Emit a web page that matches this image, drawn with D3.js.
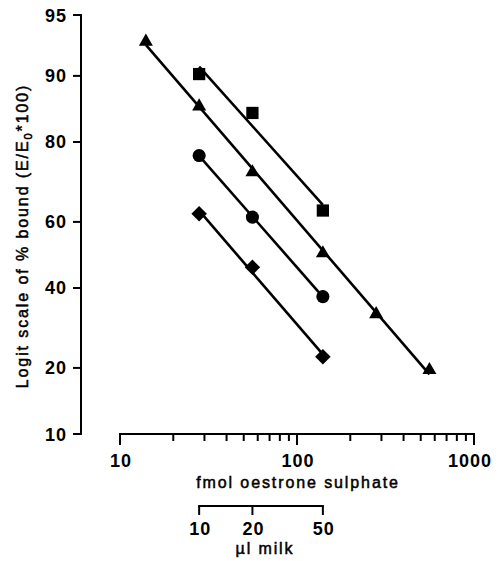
<!DOCTYPE html>
<html>
<head>
<meta charset="utf-8">
<script src="https://cdn.jsdelivr.net/npm/d3@7"></script>
<style>
  html, body { margin: 0; padding: 0; background: #fff; }
  svg { display: block; }
  text { font-family: "Liberation Sans", Arial, Helvetica, sans-serif; fill: #000; }
</style>
</head>
<body>
<svg id="chart" width="498" height="561"></svg>
<script>
// ---- data ----
const stdFmol      = [14, 28, 56, 140, 280, 560];        // standards (triangles)
const stdBound     = [93.2, 86.1, 73.4, 50.5, 32.6, 19.6];
const milkUl       = [10, 20, 50];                        // µl milk
const milkFmol     = [28, 56, 140];                       // equivalent fmol positions
const squareBound  = [90.2, 85.1, 63.3];
const circleBound  = [77.2, 61.4, 37.5];
const diamondBound = [62.4, 46.2, 22.3];
const yTickValues  = [10, 20, 40, 60, 80, 90, 95];
const xMajorTicks  = [10, 100, 1000];
const xMinorTicks  = [20, 30, 40, 50, 60, 70, 80, 90, 200, 300, 400, 500, 600, 700, 800, 900];
const ulTicks      = [10, 20, 50];
const xTitle  = "fmol oestrone sulphate";
const ulTitle = "µl milk";

// ---- scales ----
const logit = p => Math.log(p / (1 - p));
const svg = d3.select("#chart");

const x = d3.scaleLog().domain([10, 1000]).range([120, 474]);
const yLin = d3.scaleLinear().domain([logit(0.10), logit(0.95)]).range([434, 15]);
const y = v => yLin(logit(v / 100));
const xUl = d3.scaleLog().domain([10, 50]).range([x(28), x(140)]);

// ---- series ----
const series = [
  { xs: stdFmol,  ys: stdBound,     shape: "triangle" },
  { xs: milkFmol, ys: squareBound,  shape: "square" },
  { xs: milkFmol, ys: circleBound,  shape: "circle" },
  { xs: milkFmol, ys: diamondBound, shape: "diamond" }
];

// least-squares fit in (log x, logit y) space
function fit(xs, ys) {
  const lx = xs.map(v => Math.log10(v));
  const ly = ys.map(v => logit(v / 100));
  const mx = d3.mean(lx), my = d3.mean(ly);
  const b = d3.sum(lx, (v, i) => (v - mx) * (ly[i] - my)) / d3.sum(lx, v => (v - mx) * (v - mx));
  const a = my - b * mx;
  const x0 = d3.min(xs), x1 = d3.max(xs);
  return [[x0, a + b * Math.log10(x0)], [x1, a + b * Math.log10(x1)]];
}

const plot = svg.append("g");
series.forEach(s => {
  const f = fit(s.xs, s.ys);
  plot.append("line")
    .attr("x1", x(f[0][0])).attr("y1", yLin(f[0][1]))
    .attr("x2", x(f[1][0])).attr("y2", yLin(f[1][1]))
    .attr("stroke", "#000").attr("stroke-width", 2.6);
});

const symbolFor = {
  triangle: d3.symbol().type(d3.symbolTriangle).size(85),
  square:   d3.symbol().type(d3.symbolSquare).size(150),
  circle:   d3.symbol().type(d3.symbolCircle).size(135),
  diamond:  d3.symbol().type(d3.symbolSquare).size(120)
};
series.forEach(s => {
  plot.selectAll(null).data(s.xs.map((v, i) => [v, s.ys[i]])).enter()
    .append("path")
    .attr("d", symbolFor[s.shape]())
    .attr("transform", d => `translate(${x(d[0])},${y(d[1])})` + (s.shape === "diamond" ? " rotate(45)" : ""))
    .attr("fill", "#000");
});

// ---- y axis ----
const yAxis = svg.append("g");
yAxis.append("line").attr("x1", 81).attr("x2", 81).attr("y1", y(95) - 1).attr("y2", y(10) + 1)
  .attr("stroke", "#000").attr("stroke-width", 2);
yAxis.selectAll(".yt").data(yTickValues).enter().append("line")
  .attr("x1", 73).attr("x2", 81).attr("y1", d => y(d)).attr("y2", d => y(d))
  .attr("stroke", "#000").attr("stroke-width", 2);
yAxis.selectAll(".yl").data(yTickValues).enter().append("text")
  .attr("x", 67).attr("y", d => y(d) + 6.5)
  .attr("text-anchor", "end")
  .attr("font-size", 18).attr("font-weight", "bold").attr("letter-spacing", 1)
  .text(d => d);

const yt = svg.append("text")
  .attr("transform", "translate(28,236) rotate(-90)")
  .attr("text-anchor", "middle")
  .attr("font-size", 16).attr("letter-spacing", 1.9)
  .attr("stroke", "#000").attr("stroke-width", 0.5);
yt.append("tspan").text("Logit scale of % bound (E/E");
yt.append("tspan").attr("font-size", 11).attr("dy", 4).text("0");
yt.append("tspan").attr("dy", -4).text("*100)");

// ---- x axis ----
const xAxis = svg.append("g");
xAxis.append("line").attr("x1", x(10) - 1).attr("x2", x(1000) + 1).attr("y1", 434).attr("y2", 434)
  .attr("stroke", "#000").attr("stroke-width", 2);
xAxis.selectAll(".xM").data(xMajorTicks).enter().append("line")
  .attr("x1", d => x(d)).attr("x2", d => x(d)).attr("y1", 434).attr("y2", 445)
  .attr("stroke", "#000").attr("stroke-width", 2);
xAxis.selectAll(".xm").data(xMinorTicks).enter().append("line")
  .attr("x1", d => x(d)).attr("x2", d => x(d)).attr("y1", 434).attr("y2", 441)
  .attr("stroke", "#000").attr("stroke-width", 2);
xAxis.selectAll(".xl").data(xMajorTicks).enter().append("text")
  .attr("x", d => x(d) + (d === 1000 ? -4 : 1)).attr("y", 467)
  .attr("text-anchor", "middle")
  .attr("font-size", 18).attr("font-weight", "bold").attr("letter-spacing", 1)
  .text(d => d);
svg.append("text").attr("x", x(100) + 1).attr("y", 488)
  .attr("text-anchor", "middle")
  .attr("font-size", 16).attr("letter-spacing", 1.9)
  .attr("stroke", "#000").attr("stroke-width", 0.5)
  .text(xTitle);

// ---- µl milk axis ----
const uAxis = svg.append("g");
uAxis.append("line").attr("x1", xUl(10) - 1).attr("x2", xUl(50) + 1).attr("y1", 506).attr("y2", 506)
  .attr("stroke", "#000").attr("stroke-width", 2);
uAxis.selectAll(".ut").data(ulTicks).enter().append("line")
  .attr("x1", d => xUl(d)).attr("x2", d => xUl(d)).attr("y1", 506).attr("y2", 515)
  .attr("stroke", "#000").attr("stroke-width", 2);
uAxis.selectAll(".ul").data(ulTicks).enter().append("text")
  .attr("x", d => xUl(d) + 1).attr("y", 535)
  .attr("text-anchor", "middle")
  .attr("font-size", 18).attr("font-weight", "bold").attr("letter-spacing", 1)
  .text(d => d);
svg.append("text").attr("x", 265).attr("y", 554)
  .attr("text-anchor", "middle")
  .attr("font-size", 16).attr("letter-spacing", 1.9)
  .attr("stroke", "#000").attr("stroke-width", 0.5)
  .text(ulTitle);
</script>
</body>
</html>
